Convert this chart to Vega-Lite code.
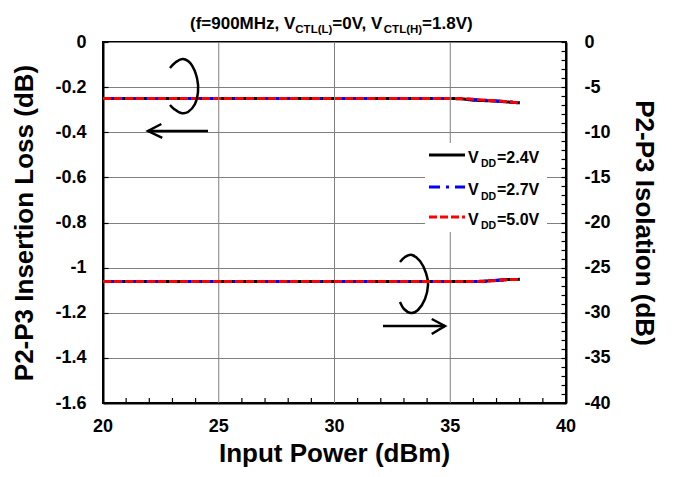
{
  "$schema": "https://vega.github.io/schema/vega-lite/v6.json",
  "width": 463,
  "height": 361,
  "autosize": "none",
  "padding": {"left": 103, "top": 42, "right": 108, "bottom": 74},
  "background": "white",
  "config": {
    "font": "Liberation Sans",
    "view": {"stroke": "black", "strokeWidth": 2},
    "axis": {
      "labelFont": "Liberation Sans",
      "labelFontWeight": "bold",
      "labelFontSize": 18,
      "labelColor": "black",
      "titleFont": "Liberation Sans",
      "titleFontWeight": "bold",
      "titleFontSize": 26,
      "titleColor": "black",
      "domainColor": "black",
      "domainWidth": 2,
      "tickColor": "black",
      "tickWidth": 1.2,
      "tickSize": -5,
      "gridColor": "#7f7f7f",
      "gridWidth": 1,
      "labelFlush": false,
      "labelOverlap": false
    },
    "text": {"font": "Liberation Sans", "fontWeight": "bold", "color": "black"}
  },
  "datasets": {
    "curves": [
      {"p": 20, "vdd": "2.4V", "il": -0.25, "iso": -26.55},
      {"p": 21, "vdd": "2.4V", "il": -0.25, "iso": -26.55},
      {"p": 22, "vdd": "2.4V", "il": -0.25, "iso": -26.55},
      {"p": 23, "vdd": "2.4V", "il": -0.25, "iso": -26.55},
      {"p": 24, "vdd": "2.4V", "il": -0.25, "iso": -26.55},
      {"p": 25, "vdd": "2.4V", "il": -0.25, "iso": -26.55},
      {"p": 26, "vdd": "2.4V", "il": -0.25, "iso": -26.55},
      {"p": 27, "vdd": "2.4V", "il": -0.25, "iso": -26.55},
      {"p": 28, "vdd": "2.4V", "il": -0.25, "iso": -26.55},
      {"p": 29, "vdd": "2.4V", "il": -0.25, "iso": -26.55},
      {"p": 30, "vdd": "2.4V", "il": -0.25, "iso": -26.55},
      {"p": 31, "vdd": "2.4V", "il": -0.25, "iso": -26.55},
      {"p": 32, "vdd": "2.4V", "il": -0.25, "iso": -26.55},
      {"p": 33, "vdd": "2.4V", "il": -0.25, "iso": -26.55},
      {"p": 34, "vdd": "2.4V", "il": -0.25, "iso": -26.55},
      {"p": 35, "vdd": "2.4V", "il": -0.25, "iso": -26.55},
      {"p": 35.5, "vdd": "2.4V", "il": -0.252, "iso": -26.55},
      {"p": 36, "vdd": "2.4V", "il": -0.258, "iso": -26.55},
      {"p": 36.5, "vdd": "2.4V", "il": -0.26, "iso": -26.5},
      {"p": 37, "vdd": "2.4V", "il": -0.262, "iso": -26.4},
      {"p": 37.5, "vdd": "2.4V", "il": -0.266, "iso": -26.32},
      {"p": 38, "vdd": "2.4V", "il": -0.27, "iso": -26.3},
      {"p": 20, "vdd": "2.7V", "il": -0.25, "iso": -26.55},
      {"p": 21, "vdd": "2.7V", "il": -0.25, "iso": -26.55},
      {"p": 22, "vdd": "2.7V", "il": -0.25, "iso": -26.55},
      {"p": 23, "vdd": "2.7V", "il": -0.25, "iso": -26.55},
      {"p": 24, "vdd": "2.7V", "il": -0.25, "iso": -26.55},
      {"p": 25, "vdd": "2.7V", "il": -0.25, "iso": -26.55},
      {"p": 26, "vdd": "2.7V", "il": -0.25, "iso": -26.55},
      {"p": 27, "vdd": "2.7V", "il": -0.25, "iso": -26.55},
      {"p": 28, "vdd": "2.7V", "il": -0.25, "iso": -26.55},
      {"p": 29, "vdd": "2.7V", "il": -0.25, "iso": -26.55},
      {"p": 30, "vdd": "2.7V", "il": -0.25, "iso": -26.55},
      {"p": 31, "vdd": "2.7V", "il": -0.25, "iso": -26.55},
      {"p": 32, "vdd": "2.7V", "il": -0.25, "iso": -26.55},
      {"p": 33, "vdd": "2.7V", "il": -0.25, "iso": -26.55},
      {"p": 34, "vdd": "2.7V", "il": -0.25, "iso": -26.55},
      {"p": 35, "vdd": "2.7V", "il": -0.25, "iso": -26.55},
      {"p": 35.5, "vdd": "2.7V", "il": -0.251, "iso": -26.55},
      {"p": 36, "vdd": "2.7V", "il": -0.255, "iso": -26.55},
      {"p": 36.5, "vdd": "2.7V", "il": -0.258, "iso": -26.52},
      {"p": 37, "vdd": "2.7V", "il": -0.262, "iso": -26.42},
      {"p": 37.5, "vdd": "2.7V", "il": -0.265, "iso": -26.33},
      {"p": 38, "vdd": "2.7V", "il": -0.268, "iso": -26.3},
      {"p": 20, "vdd": "5.0V", "il": -0.25, "iso": -26.55},
      {"p": 21, "vdd": "5.0V", "il": -0.25, "iso": -26.55},
      {"p": 22, "vdd": "5.0V", "il": -0.25, "iso": -26.55},
      {"p": 23, "vdd": "5.0V", "il": -0.25, "iso": -26.55},
      {"p": 24, "vdd": "5.0V", "il": -0.25, "iso": -26.55},
      {"p": 25, "vdd": "5.0V", "il": -0.25, "iso": -26.55},
      {"p": 26, "vdd": "5.0V", "il": -0.25, "iso": -26.55},
      {"p": 27, "vdd": "5.0V", "il": -0.25, "iso": -26.55},
      {"p": 28, "vdd": "5.0V", "il": -0.25, "iso": -26.55},
      {"p": 29, "vdd": "5.0V", "il": -0.25, "iso": -26.55},
      {"p": 30, "vdd": "5.0V", "il": -0.25, "iso": -26.55},
      {"p": 31, "vdd": "5.0V", "il": -0.25, "iso": -26.55},
      {"p": 32, "vdd": "5.0V", "il": -0.25, "iso": -26.55},
      {"p": 33, "vdd": "5.0V", "il": -0.25, "iso": -26.55},
      {"p": 34, "vdd": "5.0V", "il": -0.25, "iso": -26.55},
      {"p": 35, "vdd": "5.0V", "il": -0.25, "iso": -26.55},
      {"p": 35.5, "vdd": "5.0V", "il": -0.251, "iso": -26.55},
      {"p": 36, "vdd": "5.0V", "il": -0.254, "iso": -26.55},
      {"p": 36.5, "vdd": "5.0V", "il": -0.258, "iso": -26.51},
      {"p": 37, "vdd": "5.0V", "il": -0.261, "iso": -26.41},
      {"p": 37.5, "vdd": "5.0V", "il": -0.265, "iso": -26.33},
      {"p": 38, "vdd": "5.0V", "il": -0.27, "iso": -26.3}
    ],
    "vgrid": [{"x": 25}, {"x": 30}, {"x": 35}],
    "xTicks": [
      {"x": 21}, {"x": 22}, {"x": 23}, {"x": 24}, {"x": 26}, {"x": 27}, {"x": 28}, {"x": 29},
      {"x": 31}, {"x": 32}, {"x": 33}, {"x": 34}, {"x": 36}, {"x": 37}, {"x": 38}, {"x": 39}
    ],
    "xLabels": [
      {"x": 20, "t": "20"}, {"x": 25, "t": "25"}, {"x": 30, "t": "30"}, {"x": 35, "t": "35"}, {"x": 40, "t": "40"}
    ],
    "xTitle": [{"x": 30, "t": "Input Power (dBm)"}],
    "legendBox": [{"x": 33.909, "x2": 39.18, "y": -0.4476, "y2": -0.842}],
    "legendLines": [
      {"vdd": "2.4V", "x": 34.082, "x2": 35.637, "y": -0.5008},
      {"vdd": "2.7V", "x": 34.082, "x2": 35.637, "y": -0.6427},
      {"vdd": "5.0V", "x": 34.082, "x2": 35.637, "y": -0.7756}
    ],
    "legendMain": [
      {"t": "V", "x": 35.767, "y": -0.5363},
      {"t": "=2.4V", "x": 37.02, "y": -0.5363},
      {"t": "V", "x": 35.767, "y": -0.6781},
      {"t": "=2.7V", "x": 37.02, "y": -0.6781},
      {"t": "V", "x": 35.767, "y": -0.8111},
      {"t": "=5.0V", "x": 37.02, "y": -0.8111}
    ],
    "legendSub": [
      {"t": "DD", "x": 36.329, "y": -0.5562},
      {"t": "DD", "x": 36.329, "y": -0.6981},
      {"t": "DD", "x": 36.329, "y": -0.831}
    ],
    "arcs": [
      {"seg": "left", "i": 0, "x": 22.894, "y": -0.1152},
      {"seg": "left", "i": 1, "x": 23.153, "y": -0.0886},
      {"seg": "left", "i": 2, "x": 23.456, "y": -0.0753},
      {"seg": "left", "i": 3, "x": 23.801, "y": -0.0975},
      {"seg": "left", "i": 4, "x": 24.06, "y": -0.1596},
      {"seg": "left", "i": 5, "x": 24.104, "y": -0.2216},
      {"seg": "left", "i": 6, "x": 23.974, "y": -0.2748},
      {"seg": "left", "i": 7, "x": 23.672, "y": -0.3102},
      {"seg": "left", "i": 8, "x": 23.369, "y": -0.3147},
      {"seg": "left", "i": 9, "x": 23.067, "y": -0.2969},
      {"seg": "left", "i": 10, "x": 22.894, "y": -0.2792},
      {"seg": "right", "i": 0, "x": 32.829, "y": -0.9751},
      {"seg": "right", "i": 1, "x": 33.045, "y": -0.9529},
      {"seg": "right", "i": 2, "x": 33.348, "y": -0.944},
      {"seg": "right", "i": 3, "x": 33.693, "y": -0.9706},
      {"seg": "right", "i": 4, "x": 33.952, "y": -1.0238},
      {"seg": "right", "i": 5, "x": 34.039, "y": -1.077},
      {"seg": "right", "i": 6, "x": 33.909, "y": -1.139},
      {"seg": "right", "i": 7, "x": 33.607, "y": -1.1878},
      {"seg": "right", "i": 8, "x": 33.304, "y": -1.2011},
      {"seg": "right", "i": 9, "x": 33.002, "y": -1.1834},
      {"seg": "right", "i": 10, "x": 32.829, "y": -1.1523}
    ],
    "arrows": [
      {"seg": "leftShaft", "i": 0, "x": 24.536, "y": -0.3945},
      {"seg": "leftShaft", "i": 1, "x": 21.944, "y": -0.3945},
      {"seg": "leftHead", "i": 0, "x": 22.52, "y": -0.3634},
      {"seg": "leftHead", "i": 1, "x": 21.944, "y": -0.3945},
      {"seg": "leftHead", "i": 2, "x": 22.56, "y": -0.4254},
      {"seg": "rightShaft", "i": 0, "x": 32.095, "y": -1.2587},
      {"seg": "rightShaft", "i": 1, "x": 34.773, "y": -1.2587},
      {"seg": "rightHead", "i": 0, "x": 34.2, "y": -1.2277},
      {"seg": "rightHead", "i": 1, "x": 34.773, "y": -1.2587},
      {"seg": "rightHead", "i": 2, "x": 34.2, "y": -1.2942}
    ],
    "titleMain": [
      {"t": "(f=900MHz, V", "x": 23.758},
      {"t": "=0V, V", "x": 29.905},
      {"t": "=1.8V)", "x": 33.784}
    ],
    "titleSub": [
      {"t": "CTL(L)", "x": 28.307},
      {"t": "CTL(H)", "x": 32.13}
    ]
  },
  "layer": [
    {
      "layer": [
        {
          "data": {"name": "curves"},
          "mark": {"type": "line", "strokeWidth": 3, "strokeCap": "butt"},
          "encoding": {
            "x": {
              "field": "p", "type": "quantitative",
              "scale": {"domain": [20, 40], "nice": false, "zero": false},
              "axis": {
                "orient": "bottom",
                "title": " ",
                "labels": false,
                "labelExpr": "''",
                "ticks": false,
                "tickOpacity": 0,
                "grid": false
              }
            },
            "y": {
              "field": "il", "type": "quantitative",
              "scale": {"domain": [-1.6, 0], "nice": false, "zero": false},
              "axis": {
                "orient": "left",
                "title": "P2-P3 Insertion Loss (dB)",
                "values": [0, -0.05, -0.1, -0.15, -0.2, -0.25, -0.3, -0.35, -0.4, -0.45, -0.5, -0.55, -0.6, -0.65, -0.7, -0.75, -0.8, -0.85, -0.9, -0.95, -1, -1.05, -1.1, -1.15, -1.2, -1.25, -1.3, -1.35, -1.4, -1.45, -1.5, -1.55, -1.6],
                "labelExpr": "abs(datum.value * 5 - round(datum.value * 5)) < 0.001 ? '' + datum.value : ''",
                "labelOverlap": false,
                "gridOpacity": {"condition": {"test": "abs(datum.value * 5 - round(datum.value * 5)) < 0.001", "value": 1}, "value": 0},
                "labelPadding": 22,
                "titlePadding": 17
              }
            },
            "color": {
              "field": "vdd", "type": "nominal",
              "scale": {"domain": ["2.4V", "2.7V", "5.0V"], "range": ["#000000", "#0000ff", "#ff0000"]},
              "legend": null
            },
            "strokeDash": {
              "field": "vdd", "type": "nominal",
              "scale": {"domain": ["2.4V", "2.7V", "5.0V"], "range": [[1, 0], [11, 6, 3, 6], [8, 3]]},
              "legend": null
            }
          }
        },
        {
          "data": {"name": "vgrid"},
          "mark": {"type": "rule", "color": "#7f7f7f", "strokeWidth": 1},
          "encoding": {
            "x": {"field": "x", "type": "quantitative", "scale": {"domain": [20, 40]}}
          }
        },
        {
          "data": {"name": "xTicks"},
          "mark": {"type": "rule", "color": "black", "strokeWidth": 1.2},
          "encoding": {
            "x": {"field": "x", "type": "quantitative", "scale": {"domain": [20, 40]}},
            "y": {"datum": -1.6, "type": "quantitative", "scale": {"domain": [-1.6, 0]}},
            "y2": {"datum": -1.578}
          }
        },
        {
          "data": {"name": "xLabels"},
          "mark": {"type": "text", "fontSize": 18, "align": "center", "baseline": "middle"},
          "encoding": {
            "x": {"field": "x", "type": "quantitative", "scale": {"domain": [20, 40]}},
            "y": {"datum": -1.7064, "type": "quantitative", "scale": {"domain": [-1.6, 0]}},
            "text": {"field": "t"}
          }
        },
        {
          "data": {"name": "xTitle"},
          "mark": {"type": "text", "fontSize": 26, "align": "center", "baseline": "alphabetic"},
          "encoding": {
            "x": {"field": "x", "type": "quantitative", "scale": {"domain": [20, 40]}},
            "y": {"datum": -1.8615, "type": "quantitative", "scale": {"domain": [-1.6, 0]}},
            "text": {"field": "t"}
          }
        },
        {
          "data": {"name": "legendBox"},
          "mark": {"type": "rect", "fill": "white"},
          "encoding": {
            "x": {"field": "x", "type": "quantitative", "scale": {"domain": [20, 40]}},
            "x2": {"field": "x2"},
            "y": {"field": "y", "type": "quantitative", "scale": {"domain": [-1.6, 0]}},
            "y2": {"field": "y2"}
          }
        },
        {
          "data": {"name": "legendLines"},
          "mark": {"type": "rule", "strokeWidth": 3, "strokeCap": "butt"},
          "encoding": {
            "x": {"field": "x", "type": "quantitative", "scale": {"domain": [20, 40]}},
            "x2": {"field": "x2"},
            "y": {"field": "y", "type": "quantitative", "scale": {"domain": [-1.6, 0]}},
            "color": {"field": "vdd", "type": "nominal", "legend": null},
            "strokeDash": {"field": "vdd", "type": "nominal", "legend": null}
          }
        },
        {
          "data": {"name": "legendMain"},
          "mark": {"type": "text", "fontSize": 16, "align": "left", "baseline": "alphabetic"},
          "encoding": {
            "x": {"field": "x", "type": "quantitative", "scale": {"domain": [20, 40]}},
            "y": {"field": "y", "type": "quantitative", "scale": {"domain": [-1.6, 0]}},
            "text": {"field": "t"}
          }
        },
        {
          "data": {"name": "legendSub"},
          "mark": {"type": "text", "fontSize": 10.5, "align": "left", "baseline": "alphabetic"},
          "encoding": {
            "x": {"field": "x", "type": "quantitative", "scale": {"domain": [20, 40]}},
            "y": {"field": "y", "type": "quantitative", "scale": {"domain": [-1.6, 0]}},
            "text": {"field": "t"}
          }
        },
        {
          "data": {"name": "arcs"},
          "mark": {"type": "line", "color": "black", "strokeWidth": 2.5, "interpolate": "cardinal"},
          "encoding": {
            "x": {"field": "x", "type": "quantitative", "scale": {"domain": [20, 40]}},
            "y": {"field": "y", "type": "quantitative", "scale": {"domain": [-1.6, 0]}},
            "detail": {"field": "seg"},
            "order": {"field": "i", "type": "quantitative"}
          }
        },
        {
          "data": {"name": "arrows"},
          "mark": {"type": "line", "color": "black", "strokeWidth": 2.5, "strokeJoin": "miter"},
          "encoding": {
            "x": {"field": "x", "type": "quantitative", "scale": {"domain": [20, 40]}},
            "y": {"field": "y", "type": "quantitative", "scale": {"domain": [-1.6, 0]}},
            "detail": {"field": "seg"},
            "order": {"field": "i", "type": "quantitative"}
          }
        },
        {
          "data": {"name": "titleMain"},
          "mark": {"type": "text", "fontSize": 17, "align": "left", "baseline": "alphabetic"},
          "encoding": {
            "x": {"field": "x", "type": "quantitative", "scale": {"domain": [20, 40]}},
            "y": {"datum": 0.0563, "type": "quantitative", "scale": {"domain": [-1.6, 0]}},
            "text": {"field": "t"}
          }
        },
        {
          "data": {"name": "titleSub"},
          "mark": {"type": "text", "fontSize": 11.5, "align": "left", "baseline": "alphabetic"},
          "encoding": {
            "x": {"field": "x", "type": "quantitative", "scale": {"domain": [20, 40]}},
            "y": {"datum": 0.0421, "type": "quantitative", "scale": {"domain": [-1.6, 0]}},
            "text": {"field": "t"}
          }
        }
      ]
    },
    {
      "data": {"name": "curves"},
      "mark": {"type": "line", "strokeWidth": 3, "strokeCap": "butt"},
      "encoding": {
        "x": {"field": "p", "type": "quantitative", "scale": {"domain": [20, 40], "nice": false, "zero": false}},
        "y": {
          "field": "iso", "type": "quantitative",
          "scale": {"domain": [-40, 0], "nice": false, "zero": false},
          "axis": {
            "orient": "right",
            "title": "P2-P3 Isolation (dB)",
            "values": [0, -1, -2, -3, -4, -5, -6, -7, -8, -9, -10, -11, -12, -13, -14, -15, -16, -17, -18, -19, -20, -21, -22, -23, -24, -25, -26, -27, -28, -29, -30, -31, -32, -33, -34, -35, -36, -37, -38, -39, -40],
            "labelExpr": "datum.value % 5 == 0 ? '' + datum.value : ''",
            "labelOverlap": false,
            "grid": false,
            "labelPadding": 23,
            "titlePadding": 20
          }
        },
        "color": {"field": "vdd", "type": "nominal", "legend": null},
        "strokeDash": {"field": "vdd", "type": "nominal", "legend": null}
      }
    }
  ],
  "resolve": {"scale": {"y": "independent"}}
}
